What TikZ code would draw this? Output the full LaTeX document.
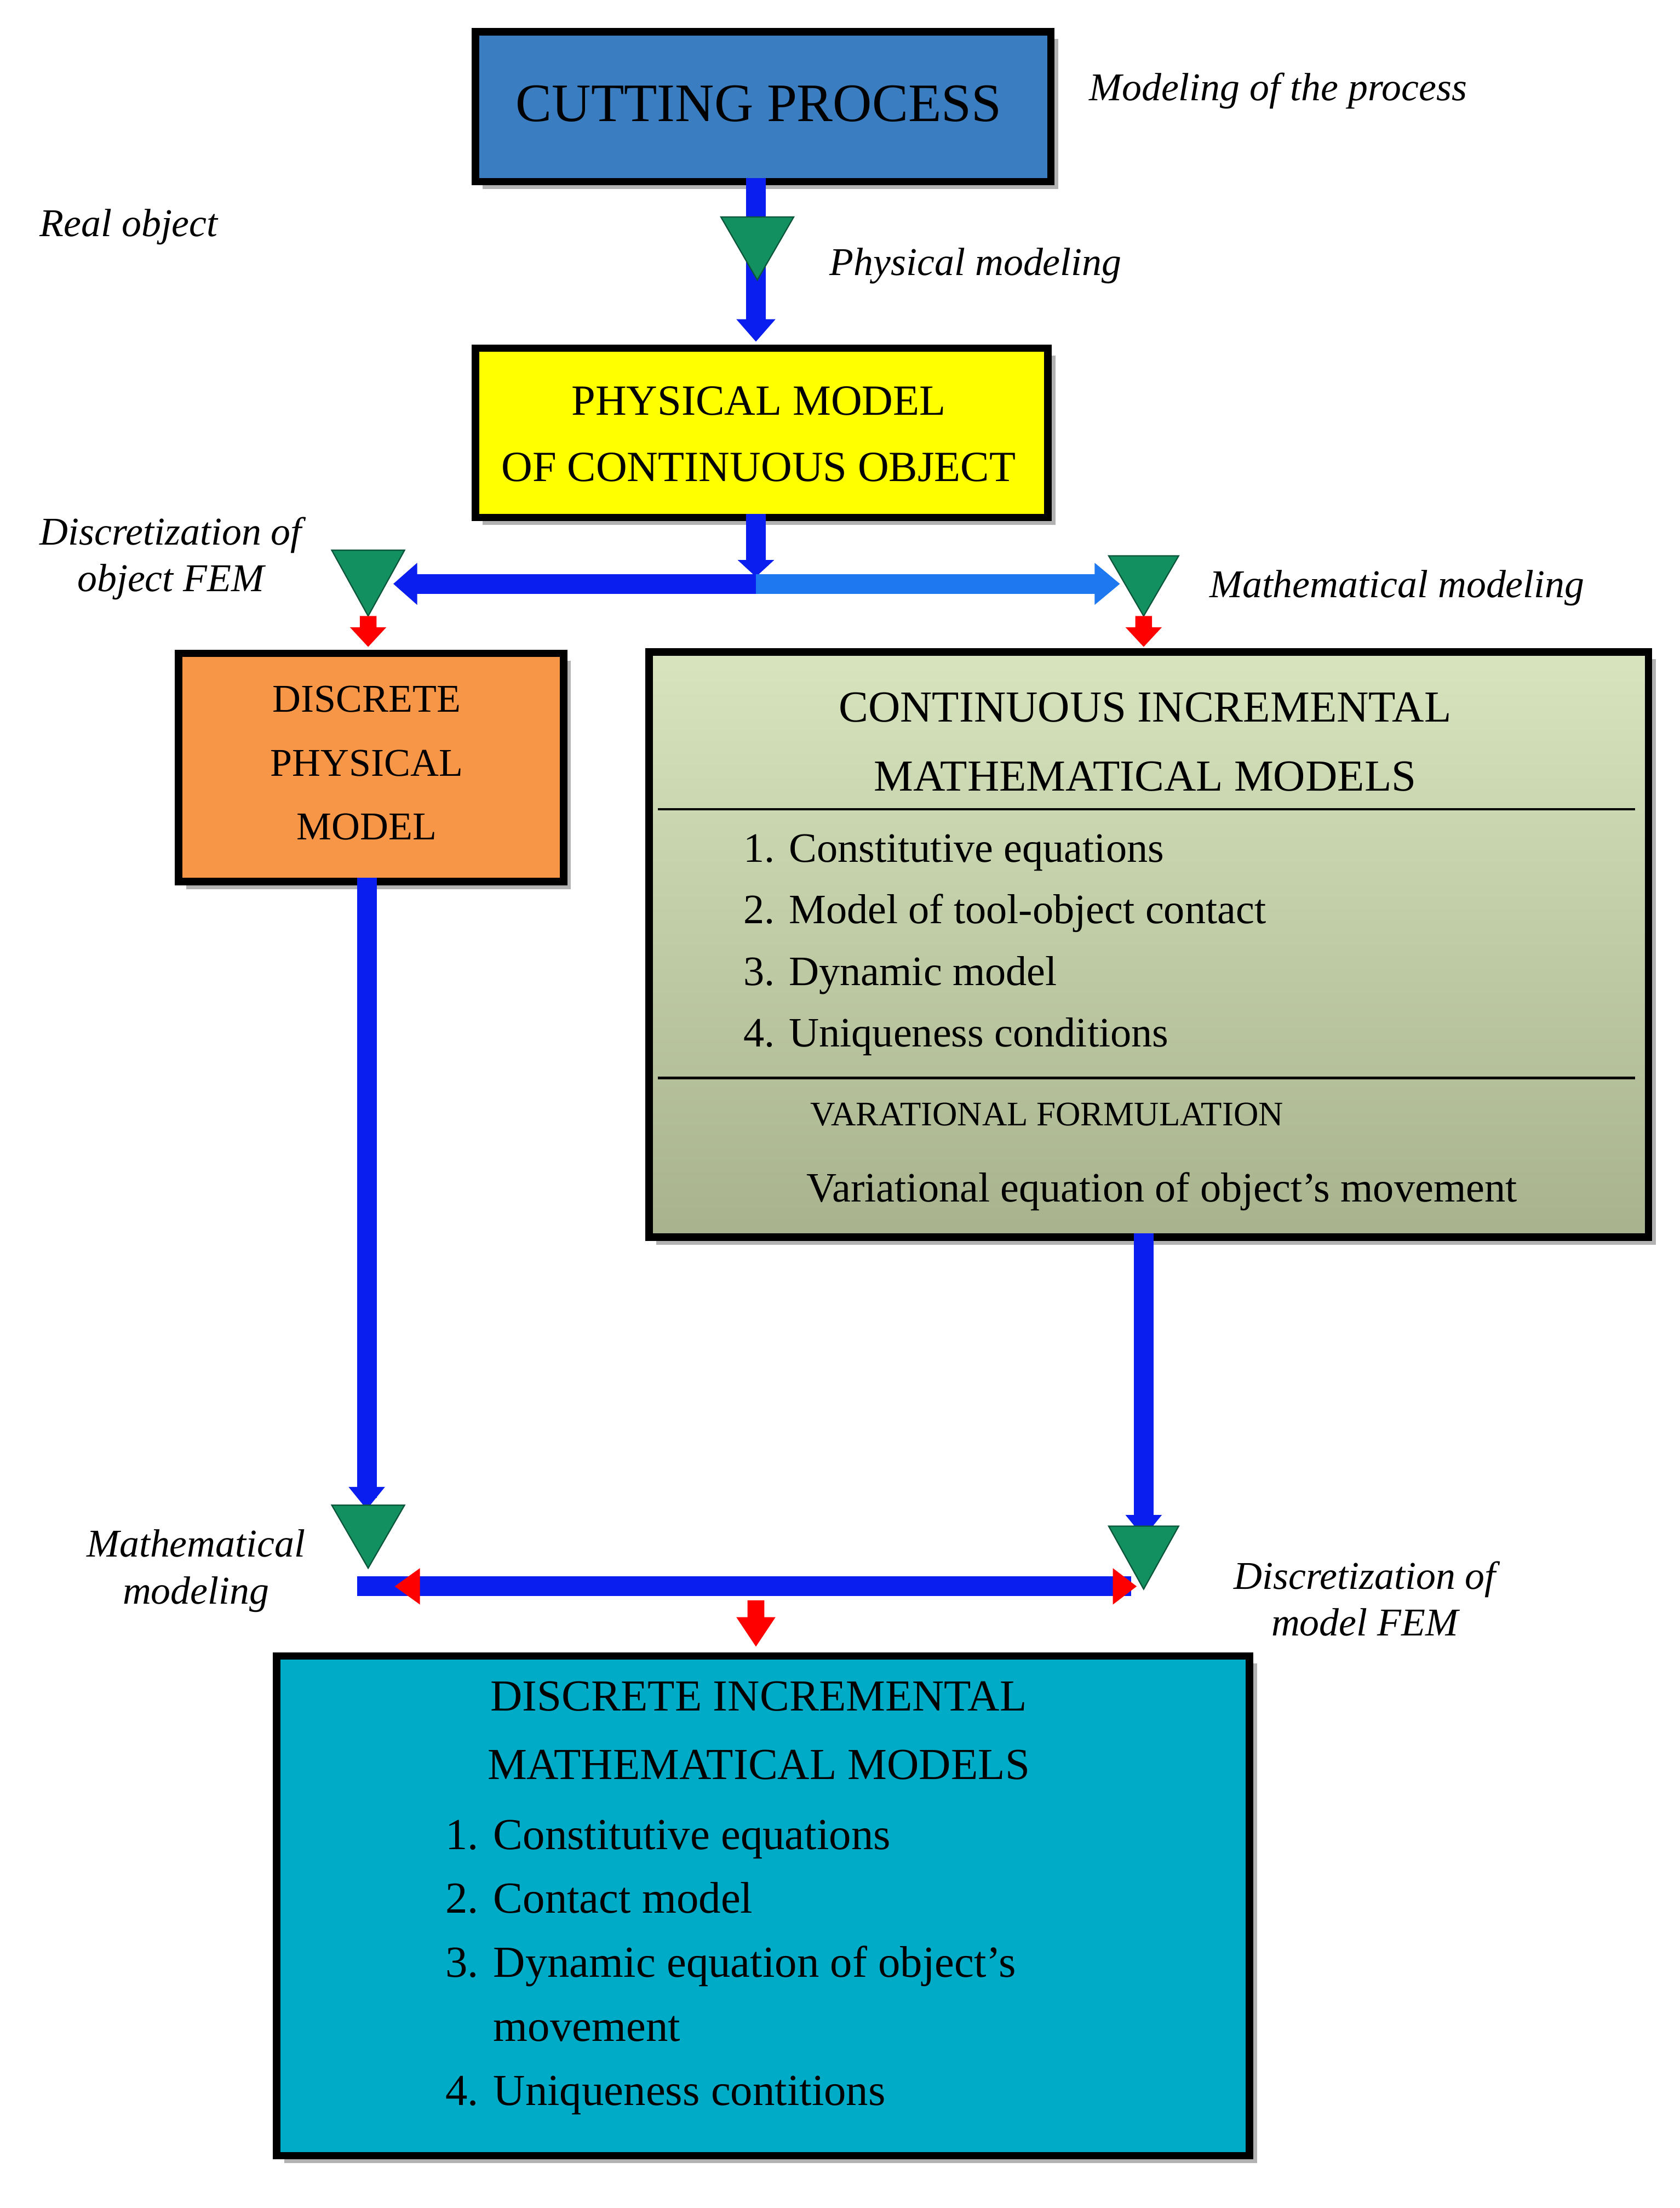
\documentclass[tikz,border=0pt]{standalone}
\usepackage{fontspec}
\setmainfont{Liberation Serif}
\usetikzlibrary{shadows}
\definecolor{cbox}{HTML}{3A7DC0}
\definecolor{ybox}{HTML}{FFFF00}
\definecolor{obox}{HTML}{F79646}
\definecolor{gtop}{HTML}{D7E4BD}
\definecolor{gbot}{HTML}{A8B38E}
\definecolor{tbox}{HTML}{00ABC8}
\definecolor{tri}{HTML}{129060}
\definecolor{barblue}{HTML}{0A1EF0}
\definecolor{lblue}{HTML}{1E78F0}
\begin{document}
\begin{tikzpicture}[x=0.02cm,y=-0.02cm,
  box/.style={draw=black,line width=3pt,inner sep=0pt,anchor=north west,
    copy shadow={shadow xshift=3pt,shadow yshift=-3pt,fill=gray!60,draw=none}},
  lab/.style={font=\fontsize{16}{19}\selectfont\itshape,align=center},
  bar/.style={draw=barblue,line width=8pt},
  tip/.style={fill=barblue},
  gtri/.style={fill=tri,draw=tri!60!black,line width=0.5pt},
  rtip/.style={fill=red}]
\useasboundingbox (0,0) rectangle (1200,1577);
% boxes
\node[box,fill=cbox,minimum width=411*0.02cm,minimum height=107*0.02cm] (cut) at (337,20) {};
\node[font=\fontsize{22}{26}\selectfont] at (542,74) {CUTTING PROCESS};
\node[box,fill=ybox,minimum width=409*0.02cm,minimum height=121*0.02cm] (phys) at (337,246) {};
\node[font=\fontsize{17.5}{22}\selectfont,align=center] at (542,310) {PHYSICAL MODEL\\[5pt]OF CONTINUOUS OBJECT};
\node[box,fill=obox,minimum width=275*0.02cm,minimum height=163*0.02cm] (dpm) at (125,464) {};
\node[font=\fontsize{16}{22}\selectfont,align=center] at (262,545) {DISCRETE\\[4pt]PHYSICAL\\[4pt]MODEL};
\node[box,top color=gtop,bottom color=gbot,minimum width=714*0.02cm,minimum height=418*0.02cm] (cim) at (461,463) {};
\draw[line width=1pt] (470,578) -- (1168,578) (470,770) -- (1168,770);
\node[font=\fontsize{18}{24}\selectfont,align=center] at (818,530) {CONTINUOUS INCREMENTAL\\[4pt]MATHEMATICAL MODELS};
\node[font=\fontsize{17}{22}\selectfont,anchor=west,align=left] at (525,675) {1. Constitutive equations\\[3pt]2. Model of tool-object contact\\[3pt]3. Dynamic model\\[3pt]4. Uniqueness conditions};
\node[font=\fontsize{14}{18}\selectfont] at (748,796) {VARATIONAL FORMULATION};
\node[font=\fontsize{17}{20}\selectfont] at (830,851) {Variational equation of object's movement};
\node[box,fill=tbox,minimum width=695*0.02cm,minimum height=357*0.02cm] (dim) at (195,1180) {};
\node[font=\fontsize{18}{24}\selectfont,align=center] at (542,1236) {DISCRETE INCREMENTAL\\[4pt]MATHEMATICAL MODELS};
\node[font=\fontsize{18}{24}\selectfont,anchor=west,align=left] at (312,1405) {1. Constitutive equations\\[2pt]2. Contact model\\[2pt]3. Dynamic equation of object's\\[2pt]\phantom{3. }movement\\[2pt]4. Uniqueness contitions};
% labels
\node[lab] at (913,65) {Modeling of the process};
\node[lab] at (92,162) {Real object};
\node[lab] at (697,190) {Physical modeling};
\node[lab] at (122,399) {Discretization of\\object FEM};
\node[lab] at (998,420) {Mathematical modeling};
\node[lab] at (140,1122) {Mathematical\\modeling};
\node[lab] at (975,1142) {Discretization of\\model FEM};
% coordinates
\coordinate (a1) at (540,127); \coordinate (a2) at (540,232);
\coordinate (j1) at (540,367); \coordinate (j2) at (540,405);
\coordinate (hl) at (295,417); \coordinate (hm) at (540,417); \coordinate (hr) at (785,417);
\coordinate (l1) at (262,627); \coordinate (l2) at (262,1070);
\coordinate (r1) at (817,881); \coordinate (r2) at (817,1090);
\coordinate (bl) at (255,1133); \coordinate (br) at (808,1133);
% top arrow
\draw[bar] (a1) -- (a2);
\fill[tip] (526,228) -- (554,228) -- (540,244) -- cycle;
\draw[gtri] (515,155) -- (567,155) -- (541,200) -- cycle;
% physical -> split
\draw[bar] (j1) -- (j2);
\fill[tip] (527,400) -- (553,400) -- (540,412) -- cycle;
\draw[bar] (hl) -- (hm);
\draw[draw=lblue,line width=8pt] (hm) -- (hr);
\fill[tip] (298,402) -- (298,432) -- (281,417) -- cycle;
\fill[lblue] (782,402) -- (782,432) -- (800,417) -- cycle;
\draw[gtri] (237,393) -- (289,393) -- (263,440) -- cycle;
\draw[gtri] (792,397) -- (842,397) -- (817,440) -- cycle;
\fill[rtip] (257,440) -- (269,440) -- (269,448) -- (276,448) -- (263,462) -- (250,448) -- (257,448) -- cycle;
\fill[rtip] (811,440) -- (823,440) -- (823,448) -- (830,448) -- (817,462) -- (804,448) -- (811,448) -- cycle;
% verticals
\draw[bar] (l1) -- (l2);
\fill[tip] (249,1062) -- (275,1062) -- (262,1078) -- cycle;
\draw[gtri] (237,1075) -- (289,1075) -- (263,1120) -- cycle;
\draw[bar] (r1) -- (r2);
\fill[tip] (804,1082) -- (830,1082) -- (817,1098) -- cycle;
\draw[gtri] (792,1090) -- (842,1090) -- (817,1135) -- cycle;
% bottom bar
\draw[bar] (bl) -- (br);
\fill[rtip] (300,1120) -- (300,1146) -- (282,1133) -- cycle;
\fill[rtip] (795,1120) -- (795,1146) -- (812,1133) -- cycle;
\fill[rtip] (534,1143) -- (546,1143) -- (546,1155) -- (554,1155) -- (540,1176) -- (526,1155) -- (534,1155) -- cycle;
\end{tikzpicture}
\end{document}
